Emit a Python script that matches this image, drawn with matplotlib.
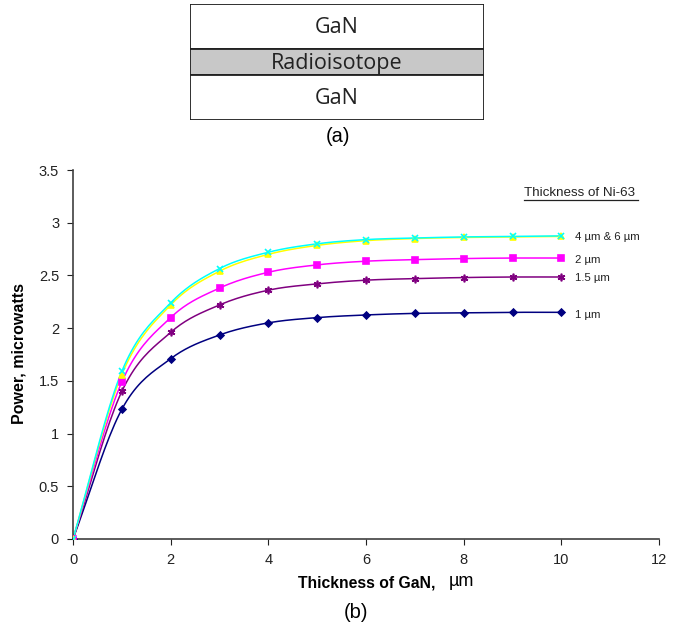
import numpy as np
import matplotlib
matplotlib.use("Agg")
import matplotlib.pyplot as plt
from matplotlib.patches import Rectangle

plt.rcParams['font.family'] = ['Liberation Sans', 'DejaVu Sans']

# data
gan_thickness = [0, 1, 2, 3, 4, 5, 6, 7, 8, 9, 10]
power_1um = [0, 1.23, 1.71, 1.935, 2.05, 2.10, 2.125, 2.14, 2.145, 2.15, 2.15]
power_1_5um = [0, 1.40, 1.96, 2.22, 2.36, 2.42, 2.455, 2.47, 2.48, 2.485, 2.485]
power_2um = [0, 1.49, 2.10, 2.38, 2.53, 2.60, 2.635, 2.65, 2.66, 2.665, 2.665]
power_4um = [0, 1.56, 2.22, 2.54, 2.70, 2.785, 2.83, 2.85, 2.86, 2.865, 2.87]
power_6um = [0, 1.59, 2.24, 2.565, 2.72, 2.80, 2.84, 2.855, 2.865, 2.87, 2.875]

series = [
    (power_1um, '#000080', 'D', 3.5),
    (power_1_5um, '#800080', (6, 2, 0), 5.5),
    (power_2um, '#FF00FF', 's', 4.5),
    (power_4um, '#FFFF00', '^', 4.5),
    (power_6um, '#00FFFF', 'x', 4.5),
]
series_labels = ['1 \u00b5m', '1.5 \u00b5m', '2 \u00b5m', '4 \u00b5m & 6 \u00b5m']
label_y = [2.12, 2.48, 2.65, 2.86]


def smooth(x, y, n=20):
    # Catmull-Rom curve through the points, like Excel's smoothed line
    x = np.asarray(x, float)
    y = np.asarray(y, float)
    px = np.concatenate([[2 * x[0] - x[1]], x, [2 * x[-1] - x[-2]]])
    py = np.concatenate([[2 * y[0] - y[1]], y, [2 * y[-1] - y[-2]]])
    xs, ys = [], []
    t = np.linspace(0, 1, n, endpoint=False)
    for i in range(1, len(px) - 2):
        for p, out in ((px, xs), (py, ys)):
            p0, p1, p2, p3 = p[i - 1], p[i], p[i + 1], p[i + 2]
            out.extend(0.5 * (2 * p1 + (-p0 + p2) * t
                              + (2 * p0 - 5 * p1 + 4 * p2 - p3) * t ** 2
                              + (-p0 + 3 * p1 - 3 * p2 + p3) * t ** 3))
    xs.append(x[-1])
    ys.append(y[-1])
    return xs, ys


fig = plt.figure(figsize=(6.83, 6.39), dpi=100)
W, H = 683, 639

# (a) layer sketch, in pixel units from the top
ax_a = fig.add_axes([190 / W, 1 - 120 / H, 294 / W, 116 / H])
ax_a.set_xlim(0, 1)
ax_a.set_ylim(116, 0)
ax_a.axis('off')
layers = [(0, 45, 'white', 'GaN'), (45, 26, '#C8C8C8', 'Radioisotope'), (71, 45, 'white', 'GaN')]
for y0, h, fc, txt in layers:
    ax_a.add_patch(Rectangle((0, y0), 1, h, facecolor=fc, edgecolor='#202020', lw=1.3))
    ax_a.text(0.5, y0 + h / 2 + 1, txt, ha='center', va='center', fontsize=15.5,
              family=['Open Sans', 'DejaVu Sans'], color='#222222')
fig.text(338 / W, 1 - 137 / H, '(a)', ha='center', va='center', fontsize=14.5)

# (b) power chart
ax = fig.add_axes([73 / W, 1 - 539 / H, 586 / W, 369 / H])
for (vals, color, marker, ms) in series:
    sx, sy = smooth(gan_thickness, vals)
    ax.plot(sx, sy, color=color, lw=1.1, zorder=2)
    ax.plot(gan_thickness, vals, linestyle='none', marker=marker, color=color,
            markersize=ms, markeredgewidth=1.2, zorder=3)

ax.set_xlim(0, 12)
ax.set_ylim(0, 3.5)
ax.set_xticks(range(0, 13, 2))
ax.set_yticks(np.arange(0, 3.51, 0.5))
ax.set_yticklabels(['0', '0.5', '1', '1.5', '2', '2.5', '3', '3.5'])
ax.spines['top'].set_visible(False)
ax.spines['right'].set_visible(False)
for s in ('left', 'bottom'):
    ax.spines[s].set_color('#404040')
    ax.spines[s].set_linewidth(1.2)
ax.tick_params(direction='out', length=4, labelsize=10.5, colors='#222222', pad=6)

for lbl, yv in zip(series_labels, label_y):
    ax.text(10.28, yv, lbl, fontsize=8.2, va='center', ha='left', color='#222222')
ax.text(9.24, 3.28, 'Thickness of Ni-63', fontsize=9.6, ha='left', va='center', color='#222222')
ax.plot([9.24, 11.57], [3.215, 3.215], color='#222222', lw=0.9, clip_on=False)

ax.set_ylabel('Power, microwatts', fontsize=11.5, fontweight='bold')
ax.yaxis.set_label_coords(-(73 - 27) / 586, (539 - 354) / 369)
fig.text(435 / W, 1 - 583 / H, 'Thickness of GaN,', ha='right', va='center',
         fontsize=11.3, fontweight='bold')
fig.text(449 / W, 1 - 581 / H, '\u00b5m', ha='left', va='center', fontsize=13)
fig.text(356 / W, 1 - 612 / H, '(b)', ha='center', va='center', fontsize=14.5)

fig.savefig('out.png', dpi=100)
